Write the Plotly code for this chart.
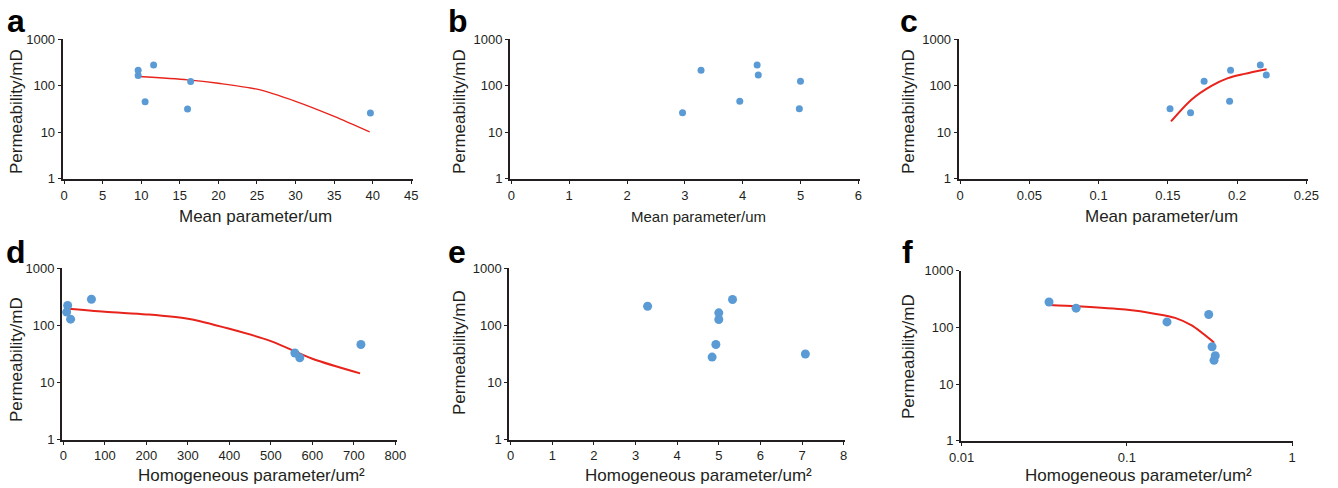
import plotly.graph_objects as go

# ---------------- data ----------------
perm = [280, 216, 168, 125, 46, 32, 26]  # permeability/mD (per sample)

# panel a: mean parameter (um)
a_x = [11.6, 9.6, 9.6, 16.4, 10.5, 16.0, 39.7]
a_y = [281, 216, 166, 123, 45, 31.4, 25.8]
a_fit_x = [9.7, 16, 20, 25, 30, 35, 39.6]
a_fit_y = [158, 134, 113, 84, 46, 21.8, 10.1]

# panel b
b_x = [4.25, 3.28, 4.27, 5.0, 3.95, 4.98, 2.96]
b_y = [281, 216, 170, 125, 46, 32, 26]

# panel c
c_x = [0.2168, 0.1953, 0.2211, 0.1762, 0.1946, 0.1516, 0.1664]
c_y = [281, 216, 170, 125, 46, 32, 26]
c_fit_x = [0.1523, 0.167, 0.1815, 0.1934, 0.2053, 0.2213]
c_fit_y = [17, 50, 99.5, 146, 180, 227]

# panel d: homogeneous parameter (um^2)
d_x = [67.7, 10.4, 8.0, 17.5, 717, 557.8, 569.7]
d_y = [286, 222, 170, 128, 46, 32.5, 26.9]
d_fit_x = [3, 100, 200, 300, 400, 500, 600, 715]
d_fit_y = [199, 172, 155, 130, 86.6, 52.7, 25.8, 14.3]

# panel e
e_x = [5.33, 3.29, 5.0, 5.0, 4.93, 7.08, 4.84]
e_y = [283, 216, 165, 126, 46, 31.2, 27.6]

# panel f (log x)
f_x = [0.0338, 0.0493, 0.313, 0.175, 0.328, 0.343, 0.337]
f_y = [281, 218, 169, 125, 45.5, 31.6, 26.2]
f_fit_x = [0.0338, 0.05, 0.098, 0.15, 0.196, 0.247, 0.338]
f_fit_y = [249, 236, 206, 173, 147, 108, 53.6]

x_titles = ["Mean parameter/um", "Mean parameter/um", "Mean parameter/um",
            "Homogeneous parameter/um²", "Homogeneous parameter/um²",
            "Homogeneous parameter/um²"]
y_title = "Permeability/mD"
panel_letters = ["a", "b", "c", "d", "e", "f"]
y_tickvals = [1, 10, 100, 1000]
y_ticktext = ["1", "10", "100", "1000"]

# ---------------- layout geometry (pixels) ----------------
W, H = 1338, 488
FONT = "Liberation Sans, Arial, sans-serif"
BLUE = "#5B9BD5"
RED = "#E8231C"
AX = "#231F20"

# x0, x1, ytop, ybottom
boxes = [
    (62.7, 412.7, 39.3, 179.0),
    (510.0, 859.7, 39.3, 179.0),
    (958.7, 1307.7, 39.3, 179.0),
    (62.0, 396.7, 268.3, 439.7),
    (509.3, 845.0, 268.3, 439.7),
    (961.0, 1292.7, 270.7, 441.3),
]
x_ranges = [(0, 45, 5), (0, 6, 1), (0, 0.25, 0.05), (0, 800, 100), (0, 8, 1), None]
xtitle_pos = [(255, 216), (698, 216), (1161, 216.5), (252, 475.5), (699, 475.5), (1138, 475)]
xtitle_size = [17, 15, 17, 17, 17, 17]
ytitle_pos = [(16, 112), (459, 112), (908, 112), (16, 360), (459, 353), (908, 357)]
letter_pos = [(16, 33), (458, 33), (909, 33), (16, 264), (457, 264), (907, 264)]

fig = go.Figure()

scatter_sets = [(a_x, a_y), (b_x, b_y), (c_x, c_y), (d_x, d_y), (e_x, e_y), (f_x, f_y)]
fit_sets = [(a_fit_x, a_fit_y, 1.3), None, (c_fit_x, c_fit_y, 2), (d_fit_x, d_fit_y, 2), None,
            (f_fit_x, f_fit_y, 2)]
marker_sizes = [7, 7, 7, 9, 9, 9]

layout = dict(
    width=W, height=H, margin=dict(l=0, r=0, t=0, b=0, autoexpand=False),
    paper_bgcolor="white", plot_bgcolor="white", showlegend=False,
    font=dict(family=FONT, color="#231F20"),
)

annotations = []
for i in range(6):
    n = "" if i == 0 else str(i + 1)
    xa, ya = "x" + n, "y" + n
    x0, x1, yt, yb = boxes[i]
    xs, ys = scatter_sets[i]
    fs = fit_sets[i]
    if fs is not None:
        fig.add_trace(go.Scatter(x=fs[0], y=fs[1], mode="lines",
                                 line=dict(color=RED, width=fs[2], shape="spline", smoothing=0.8),
                                 xaxis=xa, yaxis=ya, hoverinfo="skip"))
    fig.add_trace(go.Scatter(x=xs, y=ys, mode="markers",
                             marker=dict(color=BLUE, size=marker_sizes[i]),
                             xaxis=xa, yaxis=ya))
    xaxis = dict(
        domain=[x0 / W, x1 / W], anchor=ya, automargin=False,
        showline=True, linecolor=AX, linewidth=2, showgrid=False, zeroline=False,
        ticks="outside", ticklen=3, tickwidth=1, tickcolor=AX,
        tickfont=dict(family=FONT, size=13, color="#231F20"),
    )
    if x_ranges[i] is not None:
        lo, hi, dt = x_ranges[i]
        pad = (hi - lo) * 0.004
        xaxis.update(range=[lo - pad, hi + pad], tick0=lo, dtick=dt, tickmode="linear")
    else:
        xaxis.update(type="log", range=[-2.004, 0.004], tickvals=[0.01, 0.1, 1],
                     ticktext=["0.01", "0.1", "1"])
    yaxis = dict(
        domain=[1 - yb / H, 1 - yt / H], anchor=xa, type="log", range=[-0.01, 3.0],
        automargin=False,
        showline=True, linecolor=AX, linewidth=2, showgrid=False, zeroline=False,
        ticks="outside", ticklen=3, tickwidth=1, tickcolor=AX,
        tickvals=y_tickvals, ticktext=y_ticktext,
        tickfont=dict(family=FONT, size=13, color="#231F20"),
    )
    layout["xaxis" + n] = xaxis
    layout["yaxis" + n] = yaxis

    tx, ty = xtitle_pos[i]
    annotations.append(dict(text=x_titles[i], x=tx / W, y=1 - ty / H, xref="paper", yref="paper",
                            xanchor="center", yanchor="middle", showarrow=False,
                            font=dict(family=FONT, size=xtitle_size[i], color="#231F20")))
    yx, yy = ytitle_pos[i]
    annotations.append(dict(text=y_title, x=yx / W, y=1 - yy / H, xref="paper", yref="paper",
                            xanchor="center", yanchor="middle", showarrow=False, textangle=-90,
                            font=dict(family=FONT, size=17, color="#231F20")))
    lx, ly = letter_pos[i]
    annotations.append(dict(text="<b>" + panel_letters[i] + "</b>", x=lx / W, y=1 - (ly + 8) / H,
                            xref="paper", yref="paper", xanchor="center", yanchor="bottom",
                            showarrow=False, font=dict(family=FONT, size=32, color="black")))

layout["annotations"] = annotations
fig.update_layout(**layout)
fig.write_html("out.html")
